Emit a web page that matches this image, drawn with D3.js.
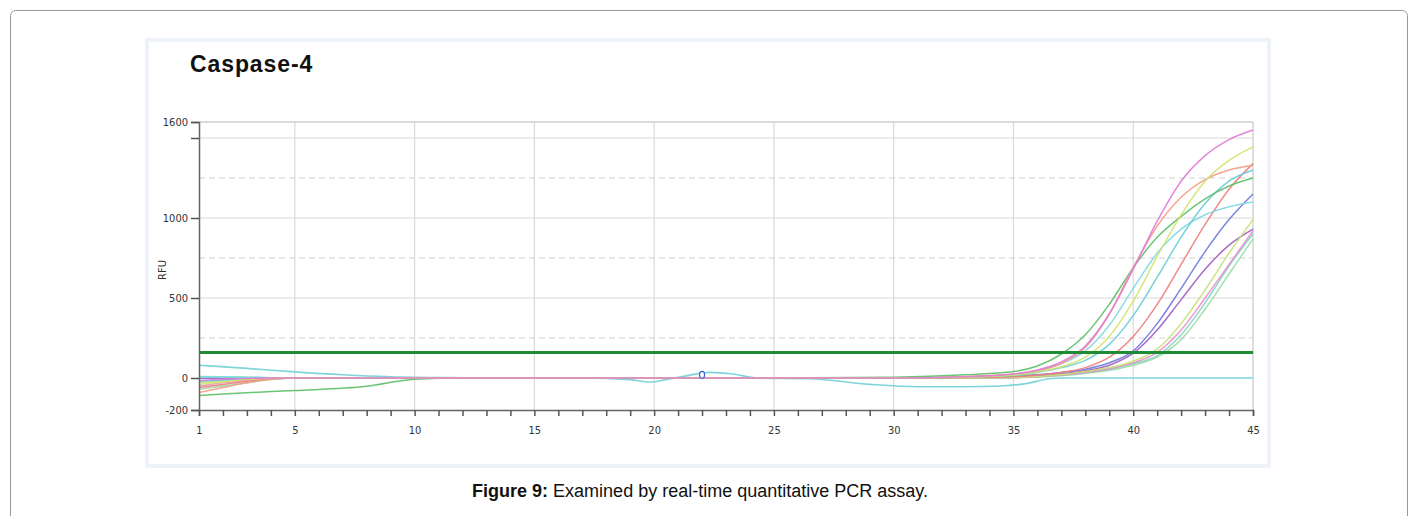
<!DOCTYPE html>
<html>
<head>
<meta charset="utf-8">
<script src="https://cdn.jsdelivr.net/npm/d3@7"></script>
<style>
  body { margin: 0; background: #fff; }
  svg { display: block; }
</style>
</head>
<body>
<svg id="chart" width="1414" height="516"></svg>
<script>
let cycles = [1, 2, 3, 4, 5, 8, 10, 12, 15, 20, 25, 30, 33, 35, 36, 37, 38, 39, 40, 41, 42, 43, 44, 45];

let wellPink   = [-15, -8, -3, 0, 0, 0, 0, 0, 0, 0, 0, 0, 8, 25, 50, 100, 200, 400, 680, 980, 1230, 1390, 1490, 1550];
let wellYellow = [-40, -25, -10, -2, 0, 0, 0, 0, 0, 0, 0, 0, 5, 18, 38, 70, 130, 260, 480, 760, 1020, 1230, 1360, 1445];
let wellSalmon = [-90, -60, -30, -8, 0, 0, 0, 0, 0, 0, 0, 0, 10, 25, 45, 90, 190, 400, 690, 950, 1130, 1240, 1300, 1330];
let wellGreen  = [-110, -100, -92, -85, -78, -52, -8, 0, 0, 0, 0, 5, 20, 40, 75, 150, 270, 460, 690, 880, 1010, 1120, 1200, 1250];
let wellCyan   = [-20, -12, -5, 0, 0, 0, 0, 0, 0, 0, 0, 0, 5, 15, 35, 65, 110, 210, 390, 630, 880, 1090, 1230, 1300];
let wellAqua   = [5, 5, 3, 2, 0, 0, 0, 0, 0, 0, 0, 0, 8, 22, 45, 90, 170, 330, 560, 780, 930, 1020, 1070, 1100];
let wellBlue   = [0, 0, 0, 0, 0, 0, 0, 0, 0, 0, 0, 0, 3, 10, 20, 35, 55, 95, 170, 340, 560, 790, 990, 1150];
let wellRed    = [-60, -40, -20, -5, 0, 0, 0, 0, 0, 0, 0, 0, 3, 8, 18, 35, 65, 130, 260, 460, 710, 960, 1180, 1340];
let wellPurple = [0, 0, 0, 0, 0, 0, 0, 0, 0, 0, 0, 0, 0, 5, 12, 25, 45, 80, 155, 300, 490, 680, 830, 930];
let wellLime   = [-30, -18, -8, 0, 0, 0, 0, 0, 0, 0, 0, 0, 0, 3, 10, 20, 40, 65, 105, 180, 340, 550, 780, 990];
let wellRose   = [-50, -30, -15, -3, 0, 0, 0, 0, 0, 0, 0, 0, 0, 2, 8, 18, 35, 58, 95, 160, 300, 500, 710, 920];
let wellMint   = [-70, -50, -30, -10, 0, 0, 0, 0, 0, 0, 0, 0, 0, 2, 6, 14, 28, 48, 80, 130, 240, 430, 650, 870];
let wellTeal   = [10, 8, 5, 2, 0, 0, 0, 0, 0, 0, 0, 0, 0, 3, 9, 20, 35, 55, 90, 140, 270, 470, 700, 900];

// the no-template well that stays on the baseline
let baselineCycles = [1, 3, 5, 7, 9, 12, 14, 17, 19, 19.8, 20.5, 21.5, 22.3, 23.3, 24.3, 26.5, 29, 31, 33, 34.5, 35.5, 36.5, 37, 45];
let baselineValues = [80, 60, 38, 20, 8, 2, 0, 0, -10, -25, -10, 18, 35, 25, 0, -5, -40, -55, -55, -50, -35, -5, 0, 0];

let threshold = 160;
let yTicks = [-200, 0, 500, 1000, 1500, 1600];
let yLabels = [-200, 0, 500, 1000, 1600];
let gridSolid = [500, 1000, 1500];
let gridDashed = [250, 750, 1250];
let xLabels = [1, 5, 10, 15, 20, 25, 30, 35, 40, 45];
let marker = [22, 20];

let wells = [wellBlue, wellPurple, wellMint, wellTeal, wellRose, wellLime, wellRed, wellAqua, wellCyan, wellGreen, wellSalmon, wellYellow, wellPink];
let wellColors = ["#6f78dc", "#a05cc0", "#98dca8", "#7fd6bc", "#ec8ccf", "#c4e070", "#f07c78", "#7fd8e0", "#66ccd8", "#5cbf68", "#f59a86", "#cfe46a", "#e07ad8"];

let svg = d3.select("#chart");

// outer page frame
svg.append("rect")
  .attr("x", 10.5).attr("y", 10.5)
  .attr("width", 1397).attr("height", 520)
  .attr("rx", 5)
  .attr("fill", "none")
  .attr("stroke", "#9a9a9a");

// the figure panel
svg.append("rect")
  .attr("x", 147).attr("y", 40)
  .attr("width", 1122).attr("height", 426)
  .attr("fill", "#fff")
  .attr("stroke", "#eef3fa")
  .attr("stroke-width", 4);

svg.append("text")
  .attr("x", 190).attr("y", 72)
  .attr("font-family", "Arial, 'Liberation Sans', sans-serif")
  .attr("font-weight", "bold")
  .attr("font-size", 23)
  .attr("letter-spacing", 0.9)
  .attr("fill", "#111")
  .text("Caspase-4");

let x = d3.scaleLinear().domain([1, 45]).range([199, 1253]);
let y = d3.scaleLinear().domain([-200, 1600]).range([410, 122]);

let plot = svg.append("g").attr("id", "plot");

// grid
plot.selectAll(".vgrid")
  .data(d3.range(5, 45, 5))
  .enter().append("line")
  .attr("x1", d => x(d)).attr("x2", d => x(d))
  .attr("y1", y(1600)).attr("y2", y(-200))
  .attr("stroke", "#dadada").attr("stroke-width", 1.2);

plot.selectAll(".hgrid")
  .data(gridSolid)
  .enter().append("line")
  .attr("x1", x(1)).attr("x2", x(45))
  .attr("y1", d => y(d)).attr("y2", d => y(d))
  .attr("stroke", "#dadada").attr("stroke-width", 1.2);

plot.selectAll(".hdash")
  .data(gridDashed)
  .enter().append("line")
  .attr("x1", x(1)).attr("x2", x(45))
  .attr("y1", d => y(d)).attr("y2", d => y(d))
  .attr("stroke", "#d0d0d0").attr("stroke-width", 1)
  .attr("stroke-dasharray", "6,4");

// top and right border of plot area
plot.append("path")
  .attr("d", `M${x(1)},${y(1600)}H${x(45)}V${y(-200)}`)
  .attr("fill", "none")
  .attr("stroke", "#d0d0d0").attr("stroke-width", 1.4);

let line = d3.line()
  .x(d => x(d[0]))
  .y(d => y(d[1]))
  .curve(d3.curveMonotoneX);

plot.append("path")
  .attr("d", line(baselineCycles.map((c, i) => [c, baselineValues[i]])))
  .attr("fill", "none")
  .attr("stroke", "#7fd4dc")
  .attr("stroke-width", 1.6);

plot.selectAll(".well")
  .data(wells)
  .enter().append("path")
  .attr("class", "well")
  .attr("d", vals => line(cycles.map((c, i) => [c, vals[i]])))
  .attr("fill", "none")
  .attr("stroke", (d, i) => wellColors[i])
  .attr("stroke-width", 1.5)
  .attr("opacity", 0.9);

// threshold line
plot.append("line")
  .attr("x1", x(1)).attr("x2", x(45))
  .attr("y1", y(threshold)).attr("y2", y(threshold))
  .attr("stroke", "#1e8c32").attr("stroke-width", 3);

plot.append("ellipse")
  .attr("cx", x(marker[0])).attr("cy", y(marker[1]))
  .attr("rx", 2.5).attr("ry", 3.5)
  .attr("fill", "#fff")
  .attr("stroke", "#3a5fcf").attr("stroke-width", 1.2);

// axes
let tickFont = "'Liberation Sans Narrow', 'DejaVu Sans Condensed', Arial, sans-serif";

let yAxis = d3.axisLeft(y)
  .tickValues(yTicks)
  .tickSize(8)
  .tickFormat(d => yLabels.includes(d) ? d : "");
let yGroup = plot.append("g").attr("transform", `translate(${x(1)},0)`).call(yAxis);

let xAxis = d3.axisBottom(x)
  .tickValues(d3.range(1, 46))
  .tickSize(6)
  .tickFormat(d => xLabels.includes(d) ? d : "");
let xGroup = plot.append("g").attr("transform", `translate(0,${y(-200)})`).call(xAxis);

[xGroup, yGroup].forEach(g => {
  g.select(".domain").attr("stroke", "#666").attr("stroke-width", 1.5);
  g.selectAll(".tick line").attr("stroke", "#555").attr("stroke-width", 1.5);
  g.selectAll(".tick text")
    .attr("font-family", tickFont)
    .attr("font-size", 11)
    .attr("fill", "#333");
});
xGroup.selectAll(".tick text").attr("dy", "1.4em");

svg.append("text")
  .attr("transform", "translate(166,270) rotate(-90)")
  .attr("text-anchor", "middle")
  .attr("font-family", tickFont)
  .attr("font-size", 11)
  .attr("fill", "#333")
  .text("RFU");

// caption
let caption = svg.append("text")
  .attr("x", 700).attr("y", 497)
  .attr("text-anchor", "middle")
  .attr("font-family", "Arial, 'Liberation Sans', sans-serif")
  .attr("font-size", 18)
  .attr("fill", "#111");
caption.append("tspan").attr("font-weight", "bold").text("Figure 9:");
caption.append("tspan").text(" Examined by real-time quantitative PCR assay.");
</script>
</body>
</html>
